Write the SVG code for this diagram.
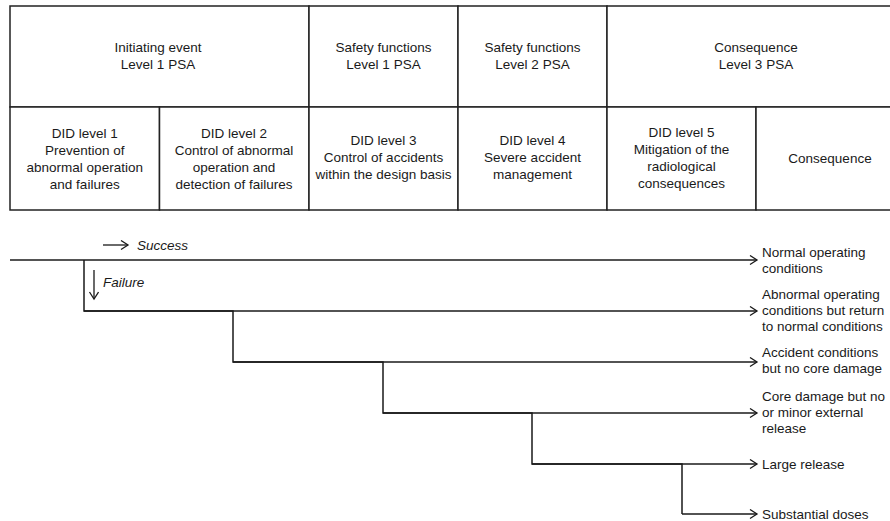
<svg xmlns="http://www.w3.org/2000/svg" width="890" height="521" viewBox="0 0 890 521">
<style>
  text { font-family: "Liberation Sans", Arial, sans-serif; font-size: 13.5px; fill: #1a1a1a; }
  .c { text-anchor: middle; }
  .it { font-style: italic; }
  .cell { fill: #ffffff; stroke: #222222; stroke-width: 1.5; }
  .ln { fill: none; stroke: #1a1a1a; stroke-width: 1.5; }
  .arr { fill: none; stroke: #1a1a1a; stroke-width: 1.3; marker-end: url(#ah); }
</style>
<defs>
  <marker id="ah" markerUnits="userSpaceOnUse" markerWidth="12" markerHeight="12" refX="8" refY="5" orient="auto">
    <path d="M1,0.5 L8,5 L1,9.5" fill="none" stroke="#1a1a1a" stroke-width="1.3"/>
  </marker>
</defs>
<rect width="890" height="521" fill="#ffffff"/>

<!-- Header row -->
<g id="h-initiating">
  <rect class="cell" x="10" y="6" width="299" height="101"/>
  <text class="c" x="158" y="52">Initiating event</text>
  <text class="c" x="158" y="69">Level 1 PSA</text>
</g>
<g id="h-safety1">
  <rect class="cell" x="309" y="6" width="149" height="101"/>
  <text class="c" x="383.5" y="52">Safety functions</text>
  <text class="c" x="383.5" y="69">Level 1 PSA</text>
</g>
<g id="h-safety2">
  <rect class="cell" x="458" y="6" width="149" height="101"/>
  <text class="c" x="532.5" y="52">Safety functions</text>
  <text class="c" x="532.5" y="69">Level 2 PSA</text>
</g>
<g id="h-consequence">
  <rect class="cell" x="607" y="6" width="300" height="101"/>
  <text class="c" x="756" y="52">Consequence</text>
  <text class="c" x="756" y="69">Level 3 PSA</text>
</g>

<!-- DID row -->
<g id="did1">
  <rect class="cell" x="10" y="107" width="149.5" height="103"/>
  <text class="c" x="84.75" y="138">DID level 1</text>
  <text class="c" x="84.75" y="155">Prevention of</text>
  <text class="c" x="84.75" y="172">abnormal operation</text>
  <text class="c" x="84.75" y="189">and failures</text>
</g>
<g id="did2">
  <rect class="cell" x="159.5" y="107" width="149.5" height="103"/>
  <text class="c" x="234" y="138">DID level 2</text>
  <text class="c" x="234" y="155">Control of abnormal</text>
  <text class="c" x="234" y="172">operation and</text>
  <text class="c" x="234" y="189">detection of failures</text>
</g>
<g id="did3">
  <rect class="cell" x="309" y="107" width="149" height="103"/>
  <text class="c" x="383.5" y="145">DID level 3</text>
  <text class="c" x="383.5" y="162">Control of accidents</text>
  <text class="c" x="383.5" y="179">within the design basis</text>
</g>
<g id="did4">
  <rect class="cell" x="458" y="107" width="149" height="103"/>
  <text class="c" x="532.5" y="145">DID level 4</text>
  <text class="c" x="532.5" y="162">Severe accident</text>
  <text class="c" x="532.5" y="179">management</text>
</g>
<g id="did5">
  <rect class="cell" x="607" y="107" width="149" height="103"/>
  <text class="c" x="681.5" y="137">DID level 5</text>
  <text class="c" x="681.5" y="154">Mitigation of the</text>
  <text class="c" x="681.5" y="171">radiological</text>
  <text class="c" x="681.5" y="188">consequences</text>
</g>
<g id="cons">
  <rect class="cell" x="756" y="107" width="151" height="103"/>
  <text class="c" x="830" y="163">Consequence</text>
</g>

<!-- Legend -->
<g id="legend-success">
  <line class="arr" x1="103" y1="245" x2="128" y2="245"/>
  <text class="it" x="137" y="250">Success</text>
</g>
<g id="legend-failure">
  <line class="arr" x1="94" y1="270" x2="94" y2="299"/>
  <text class="it" x="103" y="287">Failure</text>
</g>

<!-- Event tree connectors -->
<g id="connectors">
  <line class="arr" x1="10" y1="260" x2="757" y2="260"/>
  <polyline class="ln" points="84,260 84,311 233,311 233,362 383,362 383,413 532,413 532,464 682,464 682,514"/>
  <line class="arr" x1="84" y1="311" x2="757" y2="311"/>
  <line class="arr" x1="233" y1="362" x2="757" y2="362"/>
  <line class="arr" x1="383" y1="413" x2="757" y2="413"/>
  <line class="arr" x1="532" y1="464" x2="757" y2="464"/>
  <line class="arr" x1="682" y1="514" x2="757" y2="514"/>
</g>

<!-- Outcomes -->
<g id="out1">
  <text x="762" y="257">Normal operating</text>
  <text x="762" y="273">conditions</text>
</g>
<g id="out2">
  <text x="762" y="299">Abnormal operating</text>
  <text x="762" y="315">conditions but return</text>
  <text x="762" y="331">to normal conditions</text>
</g>
<g id="out3">
  <text x="762" y="357">Accident conditions</text>
  <text x="762" y="373">but no core damage</text>
</g>
<g id="out4">
  <text x="762" y="401">Core damage but no</text>
  <text x="762" y="417">or minor external</text>
  <text x="762" y="433">release</text>
</g>
<g id="out5">
  <text x="762" y="469">Large release</text>
</g>
<g id="out6">
  <text x="762" y="519">Substantial doses</text>
</g>
</svg>
